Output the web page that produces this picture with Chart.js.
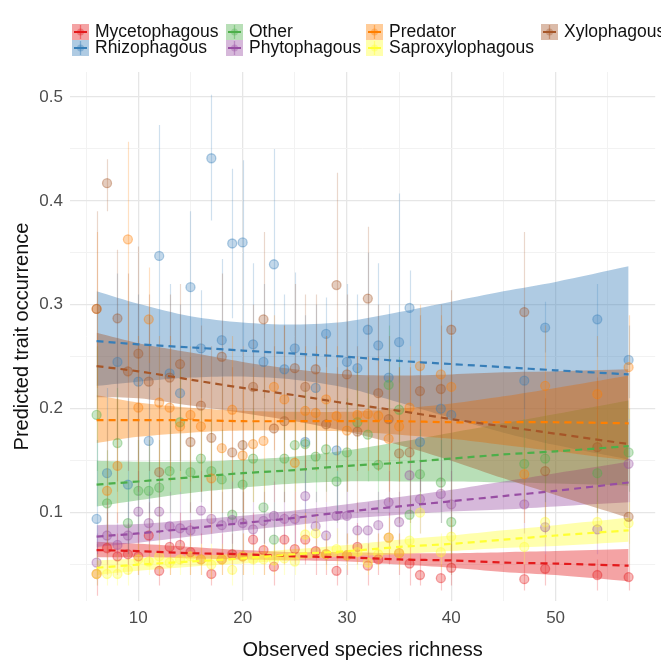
<!DOCTYPE html>
<html><head><meta charset="utf-8">
<script src="https://cdn.jsdelivr.net/npm/chart.js@4.4.1/dist/chart.umd.min.js"></script>
<style>
html,body{margin:0;padding:0;background:#fff;}
#wrap{position:relative;width:661px;height:660px;overflow:hidden;}
#c{position:absolute;left:0;top:0;}
#legend{position:absolute;left:0;top:0;width:661px;height:70px;font-family:'Liberation Sans',Arial,sans-serif;font-size:17.5px;color:#111;}
.item{position:absolute;display:flex;align-items:center;height:17px;white-space:nowrap;}
.item canvas{margin-right:6px;display:block;}
</style></head><body>
<div id="wrap"><canvas id="c" width="661" height="660"></canvas><div id="legend"></div></div>
<script>
// ---------- categories ----------
const traitNames = ['Mycetophagous','Rhizophagous','Other','Phytophagous','Predator','Saproxylophagous','Xylophagous'];
const traitColors = ['#E41A1C','#377EB8','#4DAF4A','#984EA3','#FF7F00','#FFFF33','#A65628'];
// legend layout (column-major, 2 rows)
const legendCols = [[0,1],[2,3],[4,5],[6]];

// ---------- sites (observed species richness) ----------
const sites = [6,7,8,9,10,11,12,13,14,15,16,17,18,19,20,21,22,23,24,25,26,27,28,29,30,31,32,33,34,35,36,37,39,40,47,49,54,57];

// ---------- per-site predicted occurrence, with interval ----------
const mycY  = [0.041,0.066,0.058,0.060,0.058,0.078,0.044,0.067,0.069,0.062,0.055,0.041,0.055,0.060,0.058,0.074,0.064,0.048,0.074,0.065,0.074,0.063,0.060,0.044,0.059,0.067,0.049,0.055,0.076,0.061,0.051,0.040,0.037,0.047,0.036,0.046,0.040,0.038];
const mycLo = [0.020,0.040,0.040,0.040,0.040,0.050,0.030,0.040,0.050,0.040,0.040,0.030,0.040,0.040,0.040,0.050,0.040,0.030,0.050,0.050,0.050,0.040,0.040,0.030,0.040,0.050,0.030,0.040,0.050,0.040,0.030,0.030,0.025,0.030,0.025,0.030,0.025,0.025];
const mycHi = [0.070,0.100,0.080,0.090,0.080,0.110,0.070,0.090,0.100,0.090,0.080,0.060,0.080,0.080,0.080,0.100,0.090,0.070,0.100,0.090,0.100,0.090,0.080,0.060,0.080,0.090,0.070,0.080,0.100,0.080,0.070,0.060,0.050,0.070,0.050,0.060,0.055,0.050];

const rhiY  = [0.094,0.138,0.245,0.127,0.226,0.169,0.347,0.234,0.215,0.317,0.258,0.441,0.266,0.359,0.360,0.262,0.245,0.339,0.238,0.258,0.168,0.220,0.272,0.160,0.245,0.239,0.276,0.261,0.230,0.264,0.297,0.168,0.200,0.194,0.227,0.278,0.286,0.247];
const rhiLo = [0.050,0.080,0.170,0.070,0.150,0.100,0.200,0.150,0.140,0.230,0.210,0.381,0.200,0.287,0.260,0.190,0.170,0.225,0.170,0.190,0.100,0.150,0.240,0.100,0.170,0.170,0.200,0.190,0.160,0.225,0.260,0.110,0.130,0.130,0.160,0.254,0.250,0.210];
const rhiHi = [0.170,0.220,0.330,0.210,0.310,0.290,0.473,0.320,0.300,0.390,0.314,0.502,0.344,0.431,0.439,0.340,0.320,0.450,0.310,0.331,0.290,0.300,0.307,0.240,0.320,0.310,0.350,0.340,0.300,0.407,0.333,0.240,0.280,0.270,0.300,0.303,0.320,0.280];

const othY  = [0.194,0.109,0.167,0.090,0.121,0.121,0.124,0.140,0.187,0.139,0.152,0.140,0.132,0.098,0.127,0.152,0.105,0.074,0.152,0.165,0.166,0.154,0.161,0.130,0.158,0.187,0.175,0.146,0.223,0.199,0.098,0.137,0.129,0.091,0.147,0.152,0.138,0.158];
const othLo = [0.140,0.070,0.120,0.060,0.080,0.080,0.080,0.100,0.140,0.100,0.110,0.100,0.090,0.060,0.090,0.110,0.070,0.050,0.110,0.120,0.120,0.110,0.120,0.090,0.120,0.140,0.130,0.100,0.170,0.150,0.070,0.100,0.090,0.060,0.110,0.110,0.100,0.120];
const othHi = [0.260,0.160,0.220,0.130,0.170,0.170,0.170,0.190,0.240,0.190,0.200,0.190,0.180,0.140,0.170,0.200,0.150,0.110,0.200,0.210,0.220,0.200,0.210,0.180,0.210,0.240,0.230,0.200,0.280,0.250,0.140,0.180,0.170,0.130,0.190,0.200,0.180,0.200];

const phyY  = [0.052,0.078,0.069,0.078,0.101,0.090,0.101,0.087,0.085,0.083,0.102,0.094,0.088,0.093,0.090,0.084,0.092,0.097,0.094,0.094,0.116,0.087,0.078,0.097,0.097,0.083,0.083,0.088,0.110,0.091,0.136,0.113,0.118,0.108,0.108,0.086,0.084,0.147];
const phyLo = [0.030,0.050,0.050,0.050,0.070,0.060,0.070,0.060,0.060,0.060,0.070,0.070,0.060,0.070,0.060,0.060,0.070,0.070,0.070,0.070,0.090,0.060,0.050,0.070,0.070,0.060,0.060,0.060,0.080,0.070,0.100,0.080,0.090,0.080,0.080,0.060,0.060,0.110];
const phyHi = [0.080,0.110,0.100,0.110,0.140,0.120,0.140,0.120,0.120,0.110,0.140,0.130,0.120,0.130,0.120,0.110,0.120,0.130,0.120,0.120,0.150,0.120,0.110,0.130,0.130,0.110,0.110,0.120,0.140,0.120,0.170,0.150,0.150,0.140,0.140,0.120,0.110,0.190];

const preY  = [0.296,0.121,0.145,0.363,0.201,0.286,0.206,0.201,0.183,0.194,0.183,0.133,0.162,0.199,0.155,0.166,0.169,0.221,0.209,0.148,0.198,0.196,0.209,0.193,0.179,0.194,0.195,0.193,0.171,0.183,0.201,0.241,0.233,0.221,0.137,0.222,0.214,0.240];
const preLo = [0.220,0.060,0.090,0.230,0.130,0.244,0.140,0.130,0.120,0.130,0.120,0.080,0.100,0.130,0.100,0.110,0.110,0.160,0.140,0.090,0.140,0.140,0.150,0.140,0.120,0.140,0.140,0.140,0.120,0.130,0.150,0.180,0.170,0.160,0.090,0.170,0.160,0.190];
const preHi = [0.370,0.190,0.210,0.457,0.270,0.336,0.270,0.270,0.250,0.260,0.250,0.200,0.230,0.270,0.220,0.240,0.240,0.290,0.280,0.210,0.260,0.260,0.270,0.260,0.240,0.250,0.250,0.250,0.230,0.240,0.260,0.300,0.290,0.280,0.190,0.280,0.270,0.290];

const sapY  = [0.041,0.041,0.041,0.045,0.055,0.053,0.058,0.052,0.055,0.058,0.055,0.050,0.055,0.045,0.058,0.055,0.055,0.054,0.056,0.053,0.079,0.080,0.060,0.065,0.059,0.062,0.052,0.060,0.076,0.061,0.073,0.100,0.062,0.077,0.067,0.091,0.091,0.090];
const sapLo = [0.030,0.030,0.030,0.030,0.040,0.040,0.040,0.040,0.040,0.040,0.040,0.035,0.040,0.030,0.040,0.040,0.040,0.040,0.040,0.040,0.060,0.060,0.045,0.050,0.045,0.045,0.040,0.045,0.060,0.045,0.055,0.080,0.045,0.060,0.050,0.070,0.070,0.070];
const sapHi = [0.060,0.060,0.060,0.060,0.070,0.070,0.080,0.070,0.070,0.080,0.070,0.070,0.070,0.060,0.080,0.070,0.070,0.070,0.070,0.070,0.100,0.100,0.080,0.085,0.080,0.080,0.070,0.080,0.095,0.080,0.095,0.120,0.080,0.095,0.085,0.110,0.110,0.110];

const xylY  = [0.296,0.417,0.287,0.236,0.253,0.226,0.139,0.230,0.243,0.168,0.203,0.172,0.250,0.158,0.165,0.221,0.286,0.181,0.188,0.239,0.221,0.238,0.185,0.319,0.233,0.178,0.306,0.215,0.190,0.157,0.158,0.217,0.219,0.276,0.293,0.140,0.163,0.096];
const xylLo = [0.200,0.390,0.130,0.140,0.120,0.140,0.080,0.140,0.150,0.100,0.120,0.100,0.160,0.100,0.090,0.140,0.210,0.110,0.110,0.150,0.140,0.150,0.110,0.150,0.130,0.100,0.190,0.140,0.110,0.090,0.090,0.120,0.120,0.040,0.200,0.080,0.100,0.050];
const xylHi = [0.390,0.440,0.353,0.330,0.356,0.310,0.220,0.310,0.320,0.250,0.280,0.260,0.330,0.240,0.260,0.300,0.370,0.260,0.280,0.320,0.310,0.310,0.270,0.427,0.310,0.260,0.375,0.300,0.270,0.240,0.240,0.290,0.300,0.314,0.370,0.210,0.230,0.150];

// ---------- fitted trend with confidence band ----------
const fitX = [6,10,15,20,25,30,35,40,45,50,57];
const mycFit = [0.064,0.063,0.061,0.060,0.058,0.057,0.055,0.054,0.052,0.051,0.049];
const mycLow = [0.057,0.057,0.056,0.055,0.054,0.053,0.050,0.047,0.043,0.040,0.034];
const mycUpp = [0.072,0.070,0.067,0.064,0.062,0.062,0.061,0.061,0.062,0.063,0.065];
const rhiFit = [0.265,0.262,0.259,0.256,0.253,0.250,0.246,0.243,0.240,0.237,0.233];
const rhiLow = [0.222,0.226,0.230,0.231,0.228,0.220,0.206,0.191,0.177,0.165,0.151];
const rhiUpp = [0.313,0.301,0.289,0.283,0.281,0.284,0.293,0.303,0.313,0.322,0.337];
const othFit = [0.127,0.130,0.134,0.138,0.141,0.145,0.148,0.152,0.156,0.159,0.164];
const othLow = [0.106,0.112,0.119,0.124,0.128,0.130,0.130,0.130,0.129,0.128,0.126];
const othUpp = [0.150,0.149,0.149,0.151,0.154,0.160,0.168,0.177,0.186,0.195,0.208];
const phyFit = [0.077,0.080,0.085,0.090,0.095,0.101,0.106,0.111,0.116,0.121,0.129];
const phyLow = [0.067,0.071,0.077,0.083,0.088,0.094,0.098,0.101,0.103,0.106,0.110];
const phyUpp = [0.088,0.089,0.093,0.097,0.102,0.108,0.115,0.122,0.130,0.138,0.149];
const preFit = [0.189,0.189,0.189,0.188,0.188,0.188,0.188,0.187,0.187,0.187,0.186];
const preLow = [0.167,0.173,0.177,0.179,0.179,0.178,0.175,0.171,0.165,0.159,0.150];
const preUpp = [0.213,0.206,0.201,0.198,0.197,0.197,0.200,0.205,0.212,0.220,0.232];
const sapFit = [0.047,0.050,0.053,0.056,0.060,0.063,0.067,0.070,0.074,0.078,0.083];
const sapLow = [0.040,0.044,0.048,0.051,0.055,0.058,0.060,0.063,0.066,0.068,0.072];
const sapUpp = [0.054,0.056,0.058,0.061,0.065,0.069,0.074,0.078,0.083,0.088,0.095];
const xylFit = [0.241,0.236,0.228,0.220,0.213,0.205,0.198,0.190,0.183,0.176,0.166];
const xylLow = [0.211,0.210,0.203,0.196,0.188,0.178,0.165,0.150,0.133,0.117,0.095];
const xylUpp = [0.273,0.263,0.254,0.245,0.238,0.233,0.232,0.233,0.235,0.236,0.238];

// ---------- axes ----------
const xTickValues = [5,10,15,20,25,30,35,40,45,50,55];
const yTickValues = [0.05,0.1,0.15,0.2,0.25,0.3,0.35,0.4,0.45,0.5];
const xTitle = 'Observed species richness';
const yTitle = 'Predicted trait occurrence';

const groups = [
  {y:mycY,lo:mycLo,hi:mycHi,fit:mycFit,low:mycLow,upp:mycUpp},
  {y:rhiY,lo:rhiLo,hi:rhiHi,fit:rhiFit,low:rhiLow,upp:rhiUpp},
  {y:othY,lo:othLo,hi:othHi,fit:othFit,low:othLow,upp:othUpp},
  {y:phyY,lo:phyLo,hi:phyHi,fit:phyFit,low:phyLow,upp:phyUpp},
  {y:preY,lo:preLo,hi:preHi,fit:preFit,low:preLow,upp:preUpp},
  {y:sapY,lo:sapLo,hi:sapHi,fit:sapFit,low:sapLow,upp:sapUpp},
  {y:xylY,lo:xylLo,hi:xylHi,fit:xylFit,low:xylLow,upp:xylUpp}
];

function rgba(hex,a){const n=parseInt(hex.slice(1),16);return `rgba(${n>>16&255},${n>>8&255},${n&255},${a})`;}

const datasets = [];
const nG = groups.length;
groups.forEach((g,i)=>{
  const col = traitColors[i];
  datasets.push({type:'line', data: fitX.map((x,k)=>({x, y:g.low[k]})), borderWidth:0, pointRadius:0, fill:false, tension:0.3, order: 100 + (nG-i)*2});
  datasets.push({type:'line', data: fitX.map((x,k)=>({x, y:g.upp[k]})), borderWidth:0, pointRadius:0, fill:'-1', tension:0.3, backgroundColor: rgba(col,0.4), order: 100 + (nG-i)*2 - 1});
});
groups.forEach((g,i)=>{
  const col = traitColors[i];
  datasets.push({type:'scatter', data: sites.map((x,k)=>({x, y:g.y[k]})), errLo:g.lo, errHi:g.hi, errColor: rgba(col,0.24),
    pointRadius:4.5, pointBackgroundColor: rgba(col,0.3), pointBorderColor: rgba(col,0.38), pointBorderWidth:1.3, order: 50 + (nG-i)});
});
groups.forEach((g,i)=>{
  const col = traitColors[i];
  datasets.push({type:'line', data: fitX.map((x,k)=>({x, y:g.fit[k]})), borderColor: col, borderWidth:2.2, borderDash:[7,5], pointRadius:0, fill:false, tension:0.3, order: 10 + (nG-i)});
});

const errorBars = {
  id:'errorBars',
  beforeDatasetDraw(chart,args){
    const ds = chart.data.datasets[args.index];
    if(!ds.errLo) return;
    const ctx = chart.ctx, xs = chart.scales.x, ys = chart.scales.y, a = chart.chartArea;
    ctx.save();
    ctx.beginPath(); ctx.rect(a.left,a.top,a.right-a.left,a.bottom-a.top); ctx.clip();
    ctx.strokeStyle = ds.errColor; ctx.lineWidth = 1.2;
    ctx.beginPath();
    ds.data.forEach((p,k)=>{
      const px = Math.round(xs.getPixelForValue(p.x))+0.5;
      ctx.moveTo(px, ys.getPixelForValue(ds.errLo[k]));
      ctx.lineTo(px, ys.getPixelForValue(ds.errHi[k]));
    });
    ctx.stroke();
    ctx.restore();
  }
};

const font = "'Liberation Sans', Arial, sans-serif";
const isMajorX = v => Math.abs(v % 10) < 1e-6;
const isMajorY = v => Math.abs(Math.round(v*100) % 10) < 1e-6;

new Chart(document.getElementById('c'), {
  data:{datasets},
  options:{
    responsive:false, animation:false, events:[],
    layout:{padding:{top:72,right:3,left:0,bottom:0}},
    plugins:{legend:{display:false}, tooltip:{enabled:false}},
    scales:{
      x:{type:'linear', min:3.45, max:59.55,
        afterBuildTicks: s => { s.ticks = xTickValues.map(v=>({value:v})); },
        afterFit: s => { s.height = 59; },
        ticks:{autoSkip:false, maxRotation:0, padding:7, color:'#4d4d4d', font:{family:font,size:17},
          callback: v => isMajorX(v) ? String(v) : ''},
        grid:{drawTicks:false, color: c => isMajorX(c.tick.value) ? '#e6e6e6' : '#f2f2f2', lineWidth: c => isMajorX(c.tick.value) ? 1.3 : 1},
        border:{display:false},
        title:{display:true, text:xTitle, color:'#111', font:{family:font,size:20,lineHeight:1}, padding:{top:0,bottom:0}}
      },
      y:{type:'linear', min:0.015, max:0.524,
        afterBuildTicks: s => { s.ticks = yTickValues.map(v=>({value:v})); },
        afterFit: s => { s.width = 70; },
        ticks:{autoSkip:false, padding:7, color:'#4d4d4d', font:{family:font,size:17},
          callback: v => isMajorY(v) ? v.toFixed(1) : ''},
        grid:{drawTicks:false, color: c => isMajorY(c.tick.value) ? '#e6e6e6' : '#f2f2f2', lineWidth: c => isMajorY(c.tick.value) ? 1.3 : 1},
        border:{display:false},
        title:{display:true, text:yTitle, color:'#111', font:{family:font,size:20,lineHeight:1.2}, padding:{top:10,bottom:0}}
      }
    }
  },
  plugins:[errorBars]
});

// ---------- legend ----------
const legendColX = [72,226,366,541];
const legendRowY = [23,39];
const lg = document.getElementById('legend');
legendCols.forEach((col,ci)=>{
  col.forEach((ti,ri)=>{
    const d = document.createElement('div');
    d.className='item';
    d.style.left = legendColX[ci]+'px';
    d.style.top = legendRowY[ri]+'px';
    const kc = document.createElement('canvas');
    kc.width=17; kc.height=16;
    const k = kc.getContext('2d');
    const c = traitColors[ti];
    k.fillStyle = rgba(c,0.4); k.fillRect(0,0,17,16);
    k.strokeStyle = rgba(c,0.45); k.lineWidth=1.3;
    k.beginPath(); k.moveTo(8.5,1); k.lineTo(8.5,15); k.stroke();
    k.strokeStyle = c; k.lineWidth=2;
    k.beginPath(); k.moveTo(2,8); k.lineTo(15,8); k.stroke();
    k.fillStyle = rgba(c,0.35); k.beginPath(); k.arc(8.5,8,3.5,0,Math.PI*2); k.fill();
    d.appendChild(kc);
    const t = document.createElement('span'); t.textContent = traitNames[ti];
    d.appendChild(t);
    lg.appendChild(d);
  });
});
</script>
</body></html>
